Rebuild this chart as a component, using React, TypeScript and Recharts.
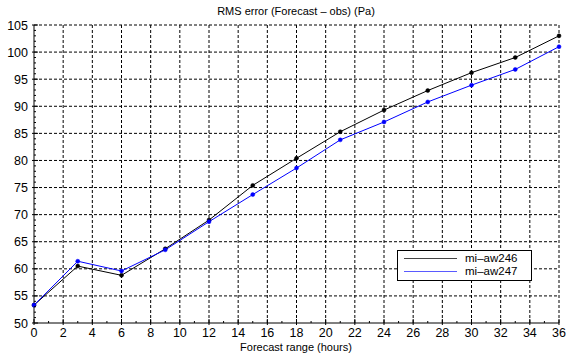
import React from "react";
import { LineChart, Line, XAxis, YAxis, ReferenceLine } from "recharts";

const hours = [0, 3, 6, 9, 12, 15, 18, 21, 24, 27, 30, 33, 36];
const aw246 = [53.3, 60.5, 58.8, 63.7, 69.0, 75.4, 80.4, 85.3, 89.3, 92.9, 96.2, 99.0, 103.0];
const aw247 = [53.3, 61.4, 59.6, 63.5, 68.7, 73.7, 78.6, 83.8, 87.1, 90.8, 93.9, 96.8, 101.0];

const xMajor = [0, 2, 4, 6, 8, 10, 12, 14, 16, 18, 20, 22, 24, 26, 28, 30, 32, 34, 36];
const yMajor = [50, 55, 60, 65, 70, 75, 80, 85, 90, 95, 100, 105];
const xTicks = Array.from({ length: 37 }, (_, i) => i);
const yTicks = Array.from({ length: 56 }, (_, i) => 50 + i);

const seriesNames = ["mi\u2013aw246", "mi\u2013aw247"];
const seriesColors = ["#000000", "#0000ff"];

const data = hours.map((h, i) => ({ h, a: aw246[i], b: aw247[i] }));

const FONT = "'Liberation Sans', Arial, sans-serif";

function XTick({ x, y, payload }: any) {
  const major = xMajor.includes(payload.value);
  return (
    <g>
      <line x1={x} x2={x} y1={major ? y + 2 : y} y2={major ? y - 4 : y - 2} stroke="#000" />
      {major && (
        <text x={x} y={y + 14} textAnchor="middle" fontSize={12.5} fill="#000" fontFamily={FONT}>
          {payload.value}
        </text>
      )}
    </g>
  );
}

function YTick({ x, y, payload }: any) {
  const major = yMajor.includes(payload.value);
  return (
    <g>
      <line x1={major ? x - 2 : x} x2={major ? x + 4 : x + 2} y1={y} y2={y} stroke="#000" />
      {major && (
        <text x={x - 6} y={y + 4.5} textAnchor="end" fontSize={12.5} fill="#000" fontFamily={FONT}>
          {payload.value}
        </text>
      )}
    </g>
  );
}

function LegendBox() {
  const legendLine = ["#444", "#5a5aff"];
  return (
    <div
      style={{
        position: "absolute",
        left: 397,
        top: 250,
        width: 133,
        height: 28,
        paddingTop: 1,
        border: "1px solid #000",
        background: "#fff",
        fontFamily: FONT,
        fontSize: 11.5,
        boxSizing: "content-box",
      }}
    >
      {seriesNames.map((n, i) => (
        <div key={n} style={{ display: "flex", alignItems: "center", height: 13, lineHeight: "13px" }}>
          <div style={{ marginLeft: 6, width: 53, height: 1, background: legendLine[i] }} />
          <span style={{ marginLeft: 8 }}>{n}</span>
        </div>
      ))}
    </div>
  );
}

export default function App() {
  return (
    <div style={{ position: "absolute", left: 0, top: 0, width: 566, height: 353, background: "#fff" }}>
      <LineChart width={566} height={353} data={data} margin={{ top: 25, right: 7, left: 0, bottom: 0 }}>
        <text x={296} y={15} textAnchor="middle" fontSize={11} fontFamily={FONT} fill="#000">
          RMS error (Forecast – obs) (Pa)
        </text>
        <text x={296} y={351} textAnchor="middle" fontSize={11} fontFamily={FONT} fill="#000">
          Forecast range (hours)
        </text>
        {xMajor.slice(1).map((v) => (
          <ReferenceLine key={"gx" + v} x={v} stroke="#000" strokeDasharray="3 2" />
        ))}
        {yMajor.slice(1).map((v) => (
          <ReferenceLine key={"gy" + v} y={v} stroke="#000" strokeDasharray="3 2" />
        ))}
        <XAxis
          dataKey="h"
          type="number"
          domain={[0, 36]}
          ticks={xTicks}
          interval={0}
          height={30}
          tickSize={0}
          tickMargin={0}
          tick={<XTick />}
          axisLine={{ stroke: "#000" }}
          tickLine={false}
        />
        <YAxis
          type="number"
          domain={[50, 105]}
          ticks={yTicks}
          interval={0}
          width={34}
          tickSize={0}
          tickMargin={0}
          tick={<YTick />}
          axisLine={{ stroke: "#000" }}
          tickLine={false}
        />
        <Line
          dataKey="a"
          name={seriesNames[0]}
          stroke={seriesColors[0]}
          strokeWidth={1}
          dot={{ r: 2, fill: seriesColors[0], stroke: seriesColors[0], strokeWidth: 0.5 }}
          isAnimationActive={false}
        />
        <Line
          dataKey="b"
          name={seriesNames[1]}
          stroke={seriesColors[1]}
          strokeWidth={1}
          dot={{ r: 2, fill: seriesColors[1], stroke: seriesColors[1], strokeWidth: 0.5 }}
          isAnimationActive={false}
        />
      </LineChart>
      <LegendBox />
    </div>
  );
}
